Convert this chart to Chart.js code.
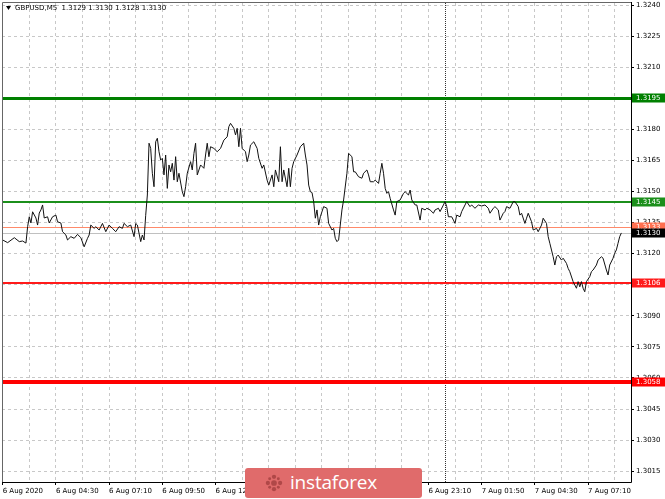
<!DOCTYPE html>
<html><head><meta charset="utf-8">
<script src="https://cdn.jsdelivr.net/npm/chart.js@4.4.0/dist/chart.umd.min.js"></script>
<style>
html,body{margin:0;padding:0;background:#fff;}
#wrap{position:relative;width:665px;height:499px;overflow:hidden;background:#fff;}
#c{position:absolute;left:0;top:0;}
#wm{position:absolute;left:245px;top:468px;width:177px;height:30px;background:#e06b6b;border-radius:3px;}
#wm svg{position:absolute;left:20px;top:6px;}
#wm span{position:absolute;left:45px;top:1px;color:#fff;font-family:'Open Sans',sans-serif;font-size:19px;line-height:26px;letter-spacing:-0.2px;}
</style></head><body>
<div id="wrap"><canvas id="c" width="665" height="499"></canvas>
<div id="wm"><svg width="18" height="18" viewBox="0 0 22 22"><g fill="#b04848"><circle cx="11" cy="11" r="3.5"/><circle cx="11" cy="3.5" r="2.6"/><circle cx="11" cy="18.5" r="2.6"/><circle cx="3.5" cy="11" r="2.6"/><circle cx="18.5" cy="11" r="2.6"/><circle cx="5.7" cy="5.7" r="1.8"/><circle cx="16.3" cy="5.7" r="1.8"/><circle cx="5.7" cy="16.3" r="1.8"/><circle cx="16.3" cy="16.3" r="1.8"/></g></svg><span>instaforex</span></div>
</div>
<script>
// ---- data ----
const titleText = 'GBPUSD,M5';
const titleOHLC = ['1.3129', '1.3130', '1.3128', '1.3130'];

const barIndex = [0,3,7,10,12,14,15,16,17,18,20,21,22,23,24,25,27,28,30,32,33,35,36,38,39,41,43,45,47,49,51,52,53,55,56,58,60,62,64,66,68,70,72,73,75,77,79,80,81,83,84,85,86,87,88,89,90,91,92,93,94,95,96,97,98,99,100,101,102,103,104,105,106,108,109,110,111,113,114,115,116,117,119,121,122,123,124,125,127,129,131,133,135,136,137,139,140,141,142,143,144,146,147,148,149,151,153,154,156,157,159,160,162,163,164,166,167,168,169,171,172,173,174,175,177,179,181,182,183,184,185,186,187,188,189,190,191,193,195,196,198,199,200,201,202,204,205,207,208,210,211,212,214,216,217,219,220,221,223,224,226,227,228,229,230,231,232,233,235,236,237,239,241,242,244,245,246,248,249,251,252,254,255,257,259,260,262,263,265,266,267,268,270,271,272,273,275,276,278,279,281,282,284,286,288,290,292,293,295,296,298,299,301,302,303,305,306,307,308,310,311,312,314,315,316,318,319,321,322,324,325,327,328,329,331,332,333,334,336,337,339,340,341,343,345,346,347,348,349,350,351,353,354,355,357,358,360,361,363,364,365,367,368,369,370,371,372];
const closePrice = [1.31266,1.31253,1.31277,1.31258,1.31261,1.31251,1.31330,1.31378,1.31348,1.31402,1.31372,1.31338,1.31396,1.31411,1.31435,1.31372,1.31378,1.31348,1.31378,1.31386,1.31354,1.31348,1.31306,1.31290,1.31266,1.31282,1.31274,1.31293,1.31277,1.31233,1.31274,1.31290,1.31338,1.31322,1.31330,1.31314,1.31346,1.31306,1.31338,1.31322,1.31306,1.31330,1.31322,1.31346,1.31330,1.31338,1.31282,1.31346,1.31338,1.31258,1.31290,1.31266,1.31385,1.31483,1.31733,1.31708,1.31588,1.31523,1.31740,1.31757,1.31692,1.31652,1.31660,1.31580,1.31676,1.31515,1.31628,1.31595,1.31636,1.31555,1.31668,1.31547,1.31588,1.31499,1.31475,1.31523,1.31588,1.31644,1.31604,1.31684,1.31733,1.31580,1.31628,1.31612,1.31676,1.31733,1.31668,1.31716,1.31708,1.31692,1.31708,1.31748,1.31764,1.31813,1.31829,1.31805,1.31773,1.31805,1.31716,1.31805,1.31708,1.31692,1.31644,1.31676,1.31724,1.31740,1.31708,1.31660,1.31612,1.31628,1.31555,1.31531,1.31580,1.31523,1.31604,1.31547,1.31716,1.31547,1.31604,1.31523,1.31612,1.31523,1.31612,1.31644,1.31676,1.31716,1.31733,1.31676,1.31628,1.31531,1.31499,1.31495,1.31451,1.31371,1.31411,1.31338,1.31378,1.31427,1.31419,1.31346,1.31314,1.31322,1.31274,1.31258,1.31266,1.31411,1.31459,1.31588,1.31684,1.31668,1.31595,1.31595,1.31571,1.31564,1.31588,1.31604,1.31580,1.31547,1.31547,1.31555,1.31539,1.31588,1.31636,1.31588,1.31515,1.31491,1.31499,1.31467,1.31411,1.31386,1.31451,1.31459,1.31491,1.31499,1.31483,1.31507,1.31459,1.31435,1.31435,1.31362,1.31419,1.31411,1.31419,1.31411,1.31395,1.31411,1.31419,1.31403,1.31435,1.31451,1.31427,1.31378,1.31378,1.31362,1.31346,1.31386,1.31378,1.31403,1.31435,1.31451,1.31427,1.31435,1.31419,1.31435,1.31430,1.31435,1.31419,1.31395,1.31419,1.31427,1.31411,1.31362,1.31395,1.31403,1.31427,1.31419,1.31435,1.31451,1.31451,1.31427,1.31386,1.31395,1.31346,1.31371,1.31395,1.31354,1.31314,1.31322,1.31306,1.31338,1.31371,1.31346,1.31282,1.31250,1.31185,1.31145,1.31185,1.31193,1.31169,1.31178,1.31153,1.31129,1.31113,1.31065,1.31033,1.31065,1.31040,1.31065,1.31033,1.31016,1.31065,1.31089,1.31113,1.31121,1.31145,1.31169,1.31185,1.31178,1.31121,1.31097,1.31145,1.31178,1.31202,1.31218,1.31250,1.31282,1.31300];

const yTicks = [1.3240,1.3225,1.3210,1.3195,1.3180,1.3165,1.3150,1.3135,1.3120,1.3105,1.3090,1.3075,1.3060,1.3045,1.3030,1.3015];
const gridBars = [0,16,32,48,64,80,96,112,128,144,160,176,192,208,224,240,256,272,288,304,320,336,352,368];
const xLabelBars = [0,32,64,96,128,160,192,224,256,288,320,352];
const xLabels = ['6 Aug 2020','6 Aug 04:30','6 Aug 07:10','6 Aug 09:50','6 Aug 12:30','6 Aug 15:10','6 Aug 17:50','6 Aug 20:30','6 Aug 23:10','7 Aug 01:50','7 Aug 04:30','7 Aug 07:10'];
const daySeparatorBar = 266;

const levelValues = [1.3195, 1.3145, 1.3133, 1.3130, 1.3106, 1.3058];
const levelLabels = ['1.3195', '1.3145', '1.3133', '1.3130', '1.3106', '1.3058'];

// ---- styles ----
const levelColors = ['#008000', '#1b8f1b', '#ff8a6a', '#c0c0c0', '#ff1a1a', '#ff0000'];
const levelWidths = [3, 2, 1, 1, 2, 4];
const levelBoxColors = ['#008000', '#1b8f1b', '#ff7050', '#000000', '#ff1a1a', '#ff0000'];
const FONT = 'DejaVu Sans';
const FS = 7;

const overlay = {
  id: 'overlay',
  beforeDatasetsDraw(chart) {
    const {ctx, chartArea: a, scales: {x, y}} = chart;
    ctx.save();
    // day separator
    const sx = Math.round(x.getPixelForValue(daySeparatorBar)) + 0.5;
    ctx.strokeStyle = '#333';
    ctx.lineWidth = 1;
    ctx.setLineDash([1, 1]);
    ctx.beginPath(); ctx.moveTo(sx, a.top); ctx.lineTo(sx, a.bottom); ctx.stroke();
    ctx.setLineDash([]);
    // level lines
    levelValues.forEach((v, i) => {
      const py = y.getPixelForValue(v);
      ctx.strokeStyle = levelColors[i];
      ctx.lineWidth = levelWidths[i];
      const yy = levelWidths[i] % 2 ? Math.round(py) + 0.5 : Math.round(py);
      ctx.beginPath(); ctx.moveTo(a.left, yy); ctx.lineTo(a.right, yy); ctx.stroke();
    });
    ctx.restore();
  },
  afterDraw(chart) {
    const {ctx, chartArea: a, scales: {y}} = chart;
    ctx.save();
    // frame
    ctx.lineWidth = 1;
    ctx.strokeStyle = '#666';
    ctx.beginPath();
    ctx.moveTo(a.left + 0.5, a.bottom); ctx.lineTo(a.left + 0.5, a.top - 0.5); ctx.lineTo(a.right, a.top - 0.5);
    ctx.stroke();
    ctx.strokeStyle = '#000';
    ctx.beginPath();
    ctx.moveTo(a.right + 0.5, a.top - 1); ctx.lineTo(a.right + 0.5, a.bottom + 0.5); ctx.lineTo(a.left, a.bottom + 0.5);
    ctx.stroke();
    // level boxes on the price axis
    ctx.font = FS + 'px "' + FONT + '"';
    ctx.textBaseline = 'middle';
    ctx.textAlign = 'left';
    levelValues.forEach((v, i) => {
      const py = Math.round(y.getPixelForValue(v));
      ctx.fillStyle = levelBoxColors[i];
      ctx.fillRect(a.right + 1, py - 4.5, 33, 9);
      ctx.fillStyle = '#fff';
      ctx.fillText(levelLabels[i], a.right + 5, py + 0.5);
    });
    // title
    ctx.fillStyle = '#000';
    ctx.beginPath(); ctx.moveTo(6, 6); ctx.lineTo(11, 6); ctx.lineTo(8.5, 10); ctx.closePath(); ctx.fill();
    ctx.font = '7px "' + FONT + '"';
    ctx.fillText(titleText + '  ' + titleOHLC.join(' '), 15, 8.5);
    ctx.restore();
  }
};

new Chart(document.getElementById('c'), {
  type: 'line',
  data: { datasets: [{
    data: barIndex.map((b, i) => ({x: b, y: closePrice[i]})),
    borderColor: '#111', borderWidth: 1, pointRadius: 0, tension: 0, fill: false
  }]},
  options: {
    responsive: false, animation: false, devicePixelRatio: 1,
    layout: { padding: { left: 2, top: 3, right: 0, bottom: 0 } },
    plugins: { legend: { display: false }, tooltip: { enabled: false }, title: { display: false } },
    scales: {
      x: {
        type: 'linear', position: 'bottom', min: -0.4, max: 377.8,
        afterBuildTicks: s => { s.ticks = gridBars.map(v => ({value: v})); },
        afterFit: s => { s.height = 17; s.paddingLeft = 0; s.paddingRight = 0; },
        ticks: {
          autoSkip: false, maxRotation: 0, minRotation: 0, align: 'start', padding: 2,
          color: '#000', font: { family: FONT, size: FS },
          callback: v => { const k = xLabelBars.indexOf(v); return k >= 0 ? xLabels[k] : ''; }
        },
        grid: {
          color: '#c8c8c8', lineWidth: 1, tickLength: 3, borderDash: [3, 3],
          tickColor: c => (c.tick && xLabelBars.includes(c.tick.value)) ? '#000' : 'rgba(0,0,0,0)'
        },
        border: { display: false, dash: [3, 3] }
      },
      y: {
        position: 'right', min: 1.300979, max: 1.324097,
        afterBuildTicks: s => { s.ticks = yTicks.map(v => ({value: v})); },
        afterFit: s => { s.width = 34; s.paddingTop = 0; s.paddingBottom = 0; },
        ticks: {
          padding: 2, color: '#000', font: { family: FONT, size: FS },
          callback: v => v.toFixed(4)
        },
        grid: { color: '#c8c8c8', lineWidth: 1, tickLength: 3, tickColor: '#000', borderDash: [3, 3] },
        border: { display: false, dash: [3, 3] }
      }
    }
  },
  plugins: [overlay]
});
</script>
</body></html>
